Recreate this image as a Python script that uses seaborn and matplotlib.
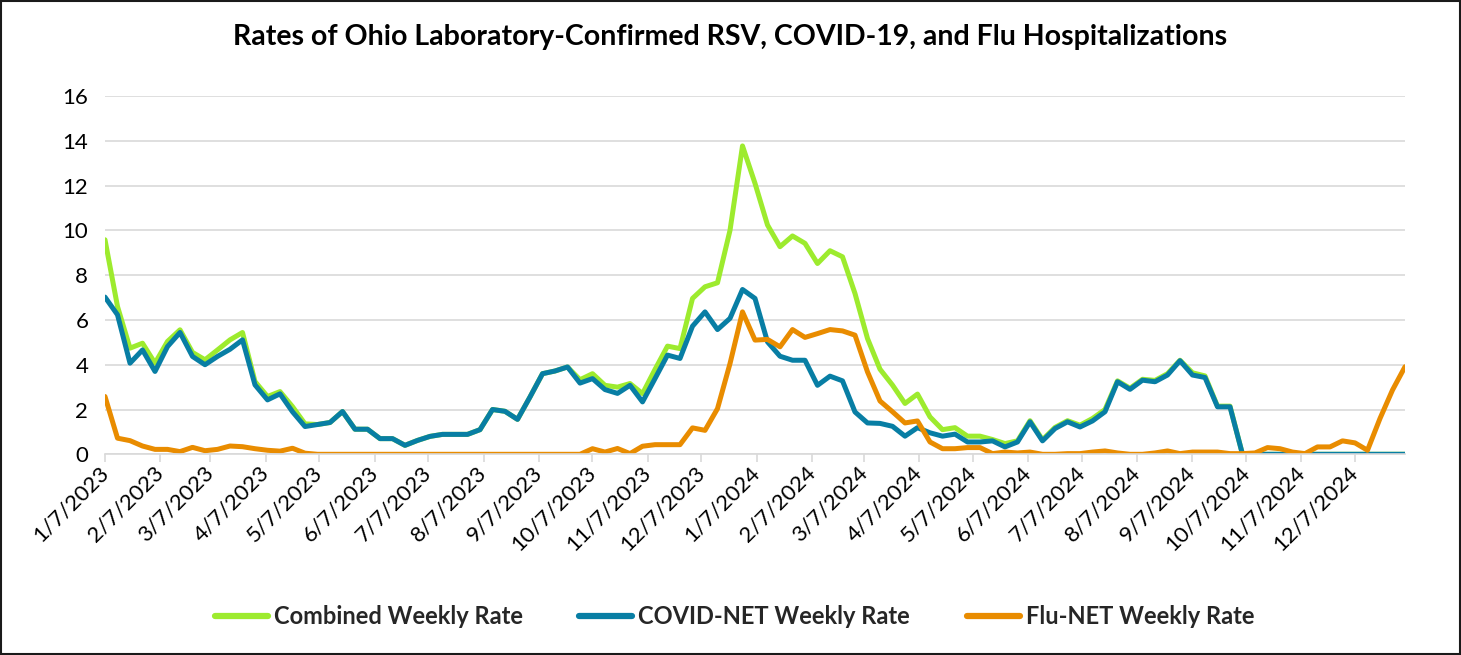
import numpy as np
import pandas as pd
import matplotlib
matplotlib.use("Agg")
import matplotlib.pyplot as plt
import matplotlib.dates as mdates
from matplotlib.patches import Rectangle
import seaborn as sns

# ---------------- data ----------------
start_date = "2023-01-07"
n_weeks = 105

combined = [9.58, 6.6, 4.74, 4.96, 4.07, 5.04, 5.56, 4.55, 4.22, 4.66,
            5.11, 5.44, 3.25, 2.58, 2.8, 2.13, 1.36, 1.33, 1.42, 1.91,
            1.12, 1.12, 0.70, 0.70, 0.40, 0.62, 0.80, 0.89, 0.89, 0.89,
            1.10, 2.0, 1.92, 1.56, 2.56, 3.6, 3.72, 3.9, 3.33, 3.6,
            3.08, 3.0, 3.16, 2.71, 3.79, 4.83, 4.72, 6.96, 7.48, 7.66,
            10.0, 13.77, 12.1, 10.24, 9.27, 9.75, 9.42, 8.52, 9.09, 8.82,
            7.18, 5.17, 3.8, 3.09, 2.27, 2.69, 1.67, 1.10, 1.19, 0.81,
            0.81, 0.66, 0.48, 0.6, 1.5, 0.65, 1.2, 1.5, 1.3, 1.6,
            2.0, 3.28, 2.95, 3.35, 3.3, 3.6, 4.2, 3.64, 3.5, 2.15,
            2.15, 0, 0, 0, 0, 0, 0, 0, 0, 0,
            0, 0, 0, 0, 0]

covid = [7.02, 6.23, 4.07, 4.66, 3.70, 4.81, 5.44, 4.37, 4.0, 4.37,
         4.69, 5.11, 3.1, 2.43, 2.7, 1.9, 1.24, 1.33, 1.42, 1.91,
         1.12, 1.12, 0.70, 0.70, 0.40, 0.62, 0.80, 0.89, 0.89, 0.89,
         1.10, 2.0, 1.92, 1.56, 2.56, 3.6, 3.72, 3.9, 3.18, 3.38,
         2.89, 2.72, 3.08, 2.34, 3.38, 4.43, 4.28, 5.72, 6.36, 5.57,
         6.07, 7.36, 6.96, 5.02, 4.38, 4.2, 4.2, 3.08, 3.49, 3.28,
         1.89, 1.40, 1.38, 1.25, 0.81, 1.19, 0.96, 0.81, 0.90, 0.55,
         0.55, 0.6, 0.33, 0.55, 1.45, 0.6, 1.15, 1.45, 1.22, 1.49,
         1.9, 3.24, 2.9, 3.31, 3.24, 3.54, 4.18, 3.54, 3.43, 2.12,
         2.12, 0, 0, 0, 0, 0, 0, 0, 0, 0,
         0, 0, 0, 0, 0]

flu = [2.58, 0.72, 0.61, 0.37, 0.22, 0.22, 0.12, 0.31, 0.16, 0.22,
       0.37, 0.34, 0.25, 0.18, 0.14, 0.27, 0.05, 0, 0, 0,
       0, 0, 0, 0, 0, 0, 0, 0, 0, 0,
       0, 0, 0, 0, 0, 0, 0, 0, 0, 0.25,
       0.1, 0.26, 0.03, 0.36, 0.43, 0.43, 0.43, 1.18, 1.07, 2.04,
       4.05, 6.36, 5.10, 5.13, 4.8, 5.57, 5.22, 5.39, 5.57, 5.51,
       5.32, 3.68, 2.38, 1.9, 1.40, 1.49, 0.55, 0.25, 0.25, 0.30,
       0.30, 0.03, 0.10, 0.06, 0.10, 0, 0, 0.03, 0.03, 0.1,
       0.15, 0.06, 0, 0, 0.06, 0.15, 0.03, 0.1, 0.1, 0.1,
       0.03, 0.03, 0.06, 0.3, 0.25, 0.1, 0.03, 0.33, 0.33, 0.6,
       0.51, 0.18, 1.6, 2.87, 3.91]

series_names = ["Combined Weekly Rate", "COVID-NET Weekly Rate", "Flu-NET Weekly Rate"]
series_colors = ["#9DEB2E", "#087EA4", "#E98C00"]
title = "Rates of Ohio Laboratory-Confirmed RSV, COVID-19, and Flu Hospitalizations"
y_ticks = [0, 2, 4, 6, 8, 10, 12, 14, 16]
tick_dates = ["2023-01-07", "2023-02-07", "2023-03-07", "2023-04-07", "2023-05-07",
              "2023-06-07", "2023-07-07", "2023-08-07", "2023-09-07", "2023-10-07",
              "2023-11-07", "2023-12-07", "2024-01-07", "2024-02-07", "2024-03-07",
              "2024-04-07", "2024-05-07", "2024-06-07", "2024-07-07", "2024-08-07",
              "2024-09-07", "2024-10-07", "2024-11-07", "2024-12-07"]

# ---------------- figure ----------------
sns.set_theme(style="white")
plt.rcParams["font.family"] = ["Lato", "DejaVu Sans"]

dates = pd.date_range(start_date, periods=n_weeks, freq="7D")
df = pd.DataFrame({"date": dates, series_names[0]: combined,
                   series_names[1]: covid, series_names[2]: flu})
long = df.melt(id_vars="date", var_name="series", value_name="rate")

fig = plt.figure(figsize=(14.61, 6.55), dpi=100)
ax = fig.add_axes([105 / 1461, 1 - 454.3 / 655, 1300 / 1461, (454.3 - 96) / 655])

for name, color in zip(series_names, series_colors):
    sub = long[long["series"] == name]
    sns.lineplot(data=sub, x="date", y="rate", color=color, linewidth=3.6,
                 ax=ax, label=name, legend=False, solid_joinstyle="round",
                 solid_capstyle="round")

ax.set_xlim(dates[0], dates[-1])
ax.set_ylim(0, 16)
ax.set_yticks(y_ticks)
ax.set_yticklabels([str(v) for v in y_ticks], fontsize=16, color="#000000")
ax.grid(axis="y", color="#D9D9D9", linewidth=1.2)
ax.grid(axis="x", visible=False)
ax.set_axisbelow(True)

tds = pd.to_datetime(tick_dates)
ax.set_xticks(tds)
ax.set_xticklabels([f"{d.month}/{d.day}/{d.year}" for d in tds], fontsize=16,
                   rotation=45, ha="right", va="center", rotation_mode="anchor",
                   color="#000000")
ax.tick_params(axis="x", direction="out", length=6, width=1.2, color="#D9D9D9",
               pad=5, bottom=True)
ax.tick_params(axis="y", length=0, pad=12)

for s in ["top", "right", "left"]:
    ax.spines[s].set_visible(False)
ax.spines["bottom"].set_color("#D9D9D9")
ax.spines["bottom"].set_linewidth(1.2)
ax.set_xlabel("")
ax.set_ylabel("")

fig.text(0.5, 1 - 37 / 655, title, ha="center", va="center", fontsize=20.5,
         fontweight="bold", color="#000000")

handles, labels = ax.get_legend_handles_labels()
leg = fig.legend(handles, labels, loc="center", bbox_to_anchor=(0.5 * (212 + 1257) / 1461, 1 - 617 / 655),
                 ncol=3, frameon=False, prop={"size": 17, "weight": "bold"},
                 handlelength=2.25, columnspacing=2.4, handletextpad=0.25)
for h in leg.legend_handles:
    h.set_linewidth(4.5)

fig.patches.append(Rectangle((0.0008, 0.0012), 0.9984, 0.9976, transform=fig.transFigure,
                             fill=False, edgecolor="#1a1a1a", linewidth=1.5))

fig.savefig("out.png", dpi=100)
